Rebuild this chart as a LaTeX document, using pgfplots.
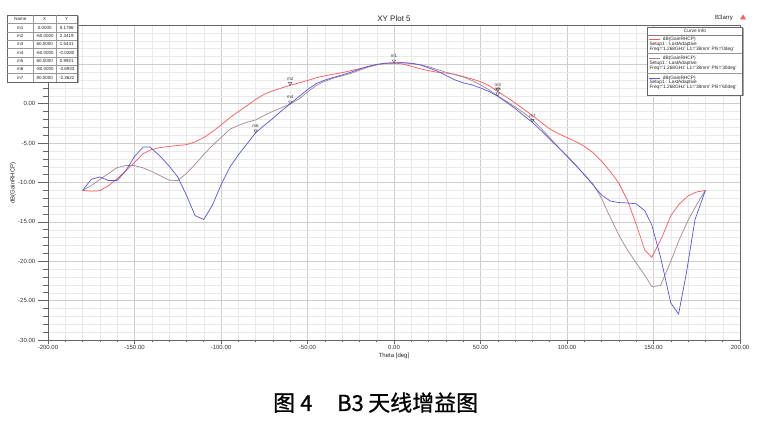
\documentclass[border=0pt]{standalone}
\usepackage{fontspec}
\setmainfont{Liberation Sans}
\newfontfamily\cjk[FakeBold=0.8]{Noto Sans CJK SC}
\usepackage{pgfplots}
\pgfplotsset{compat=1.18}
\definecolor{cred}{RGB}{255,85,85}
\definecolor{cgray}{RGB}{165,135,145}
\definecolor{cblue}{RGB}{85,85,225}
\definecolor{gmaj}{RGB}{205,205,205}
\definecolor{gmin}{RGB}{233,233,233}
\newcommand\q{\textquotesingle}
\newcommand\fs[1]{\fontsize{#1}{#1}\selectfont}
\begin{document}
\begin{tikzpicture}[x=1pt,y=1pt]
\useasboundingbox (0,0) rectangle (757,425);
\fill[white] (0,0) rectangle (757,425);
\begin{axis}[
  at={(48pt,85pt)}, anchor=south west, scale only axis,
  width=692pt, height=315pt,
  xmin=-200, xmax=200, ymin=-30, ymax=10,
  xtick={-200,-150,...,200}, ytick={-30,-25,...,10},
  yticklabels={{-30.00},{-25.00},{-20.00},{-15.00},{-10.00},{-5.00},{0.00},{},{}},
  minor x tick num=4, minor y tick num=4,
  grid=both,
  major grid style={gmaj, line width=0.5pt},
  minor grid style={gmin, line width=0.4pt},
  axis line style={black!60, line width=0.6pt},
  tick align=outside, xtick pos=bottom, ytick pos=left,
  tick style={black!60, line width=0.5pt},
  xtick style={/pgfplots/major tick length=4pt, /pgfplots/minor tick length=2pt},
  ytick style={/pgfplots/major tick length=10pt, /pgfplots/minor tick length=5pt},
  /pgf/number format/fixed, /pgf/number format/fixed zerofill,
  /pgf/number format/precision=2, /pgf/number format/assume math mode=true,
  ticklabel style={font=\fs{6}, text=black!80},
  xticklabel style={yshift=2pt},
  yticklabel style={xshift=-5pt},
]
\addplot[cred, line width=0.7pt] coordinates {
(-180,-11.0)(-175,-11.1)(-170,-11.05)(-165,-10.4)(-160,-9.5)(-155,-8.5)(-150,-7.45)(-145,-6.35)(-140,-5.8)(-135,-5.55)(-130,-5.42)(-125,-5.3)(-120,-5.2)(-115,-4.85)(-110,-4.3)(-105,-3.55)(-100,-2.7)(-95,-1.8)(-90,-1.0)(-85,-0.25)(-80,0.55)(-75,1.2)(-70,1.65)(-65,2.0)(-60,2.34)(-55,2.65)(-50,2.95)(-45,3.3)(-40,3.55)(-35,3.75)(-30,3.95)(-25,4.2)(-20,4.45)(-15,4.7)(-10,4.95)(-5,5.1)(0,5.18)(5,5.05)(10,4.75)(15,4.45)(20,4.2)(25,4.0)(30,3.9)(35,3.75)(40,3.45)(45,3.15)(50,2.8)(55,2.3)(60,1.54)(65,0.85)(70,0.1)(75,-0.7)(80,-1.5)(85,-2.35)(90,-3.2)(95,-3.8)(100,-4.3)(105,-4.8)(110,-5.4)(115,-6.2)(120,-7.3)(125,-8.6)(130,-10.1)(135,-12.3)(140,-15.3)(145,-18.6)(149,-19.5)(155,-16.9)(160,-14.2)(165,-12.7)(170,-11.7)(175,-11.2)(180,-11.0)
};
\addplot[cgray, line width=0.7pt] coordinates {
(-180,-11)(-175,-10.4)(-170,-9.6)(-165,-8.85)(-160,-8.1)(-155,-7.85)(-150,-7.85)(-145,-8.15)(-140,-8.6)(-135,-9.15)(-130,-9.7)(-125,-9.75)(-120,-8.85)(-115,-7.7)(-110,-6.45)(-105,-5.3)(-100,-4.3)(-95,-3.25)(-90,-2.75)(-85,-2.35)(-80,-2.05)(-75,-1.5)(-70,-0.95)(-65,-0.5)(-60,-0.03)(-55,0.6)(-50,1.5)(-45,2.3)(-40,2.85)(-35,3.25)(-30,3.55)(-25,3.85)(-20,4.25)(-15,4.65)(-10,4.95)(-5,5.15)(0,5.18)(5,5.2)(10,5.1)(15,4.95)(20,4.7)(25,4.35)(30,4.0)(35,3.7)(40,3.4)(45,2.95)(50,2.4)(55,1.75)(60,0.99)(65,0.3)(70,-0.4)(75,-1.15)(80,-2.0)(85,-3.1)(90,-4.3)(95,-5.5)(100,-6.7)(105,-7.8)(110,-9.0)(115,-10.2)(120,-12.0)(123,-13.5)(130,-16.7)(135,-18.6)(140,-20.2)(145,-21.8)(149,-23.2)(154,-23.1)(160,-20.0)(165,-17.2)(170,-14.8)(175,-12.8)(180,-11)
};
\addplot[cblue, line width=0.7pt] coordinates {
(-180,-11)(-175,-9.6)(-170,-9.3)(-165,-9.75)(-160,-9.75)(-155,-8.5)(-150,-6.7)(-145,-5.5)(-141,-5.5)(-135,-6.7)(-130,-7.9)(-125,-9.3)(-120,-11.6)(-115,-14.2)(-110,-14.7)(-105,-12.9)(-100,-10.3)(-95,-8.1)(-90,-6.5)(-85,-5.1)(-80,-3.69)(-75,-2.75)(-70,-1.85)(-65,-0.9)(-60,0.0)(-55,0.9)(-50,1.8)(-45,2.55)(-40,3.0)(-35,3.35)(-30,3.65)(-25,4.0)(-20,4.4)(-15,4.75)(-10,5.0)(-5,5.15)(0,5.18)(5,5.22)(10,5.15)(15,4.95)(20,4.55)(25,4.15)(30,3.6)(35,3.05)(40,2.65)(45,2.4)(50,2.0)(55,1.55)(60,0.95)(65,0.2)(70,-0.6)(75,-1.5)(80,-2.36)(85,-3.4)(90,-4.5)(95,-5.55)(100,-6.6)(105,-7.8)(110,-9.0)(115,-10.3)(120,-11.6)(125,-12.35)(130,-12.55)(135,-12.6)(140,-12.7)(145,-13.6)(149,-15.4)(154,-19.4)(160,-25.3)(164.5,-26.7)(169,-21.5)(174,-14.7)(180,-11)
};
\addplot[only marks, mark=triangle, mark size=2pt,
  mark options={black!70, line width=0.4pt, yshift=2pt, rotate=180},
  nodes near coords, point meta=explicit symbolic,
  every node near coord/.append style={font=\fs{4.5}, text=black!80, yshift=2.5pt, inner sep=0.5pt}]
  coordinates {(0,5.1786)[m1] (-60,2.3419)[m2] (60,1.5441)[m3] (-60,-0.0280)[m4] (60,0.9921)[m5] (-80,-3.6933)[m6] (80,-2.3622)[m7]};
\end{axis}
% title and labels
\node[font=\fs{8}, text=black!85] at (394,406) {XY Plot 5};
\node[font=\fs{6}, text=black!85] at (724,407) {B3arry};
\fill[red!65] (740,405.5) -- (746,405.5) -- (743,410.5) -- cycle;
\node[font=\fs{6}, text=black!85, rotate=90] at (13,242) {dB(GainRHCP)};
\node[font=\fs{6}, text=black!85] at (394,69) {Theta [deg]};
% marker table
\fill[black!35] (8.8,341.5) rectangle (78.8,408.5);
\fill[white] (7.3,343) rectangle (77.3,410);
\draw[black!60, line width=0.4pt] (7.3,343) rectangle (77.3,410);
\foreach \k in {1,...,7} \draw[black!40, line width=0.3pt] (7.3,410-8.375*\k) -- (77.3,410-8.375*\k);
\draw[black!40, line width=0.3pt] (33.3,343) -- (33.3,410) (56,343) -- (56,410);
\begin{scope}[every node/.style={font=\fs{4.5}, text=black!85, inner sep=0pt}]
\node at (20.3,405.8) {Name}; \node at (44.65,405.8) {X}; \node at (66.65,405.8) {Y};
\foreach \n/\xx/\yy [count=\i] in {m1/0.0000/5.1786, m2/-60.0000/2.3419, m3/60.0000/1.5441, m4/-60.0000/-0.0280, m5/60.0000/0.9921, m6/-80.0000/-3.6933, m7/80.0000/-2.3622}{
  \node at (20.3,405.8-8.375*\i) {\n};
  \node at (44.65,405.8-8.375*\i) {\xx};
  \node at (66.65,405.8-8.375*\i) {\yy};
}
\end{scope}
% legend box
\fill[black!35] (648.8,328.5) rectangle (743.5,396.5);
\fill[white] (647.3,330) rectangle (742,398);
\draw[black!60, line width=0.4pt] (647.3,330) rectangle (742,398);
\draw[black!50, line width=0.3pt] (647.3,390) -- (742,390);
\draw[black!40, line width=0.3pt] (647.3,371.7) -- (742,371.7) (647.3,352.3) -- (742,352.3);
\begin{scope}[every node/.style={font=\fs{4.8}, text=black!85, inner sep=0pt, anchor=west}]
\node[anchor=center] at (695,394.3) {Curve Info};
\draw[cred, line width=1pt] (649,385.7) -- (660,385.7);
\node at (662.7,385.7) {dB(GainRHCP)};
\node at (649.3,381) {Setup1 : LastAdaptive};
\node at (649.3,376) {Freq=\q1.268GHz\q{} L1=\q38mm\q{} Phi=\q0deg\q};
\draw[cgray, line width=1pt] (649,366.7) -- (660,366.7);
\node at (662.7,366.7) {dB(GainRHCP)};
\node at (649.3,361.7) {Setup1 : LastAdaptive};
\node at (649.3,356.7) {Freq=\q1.268GHz\q{} L1=\q38mm\q{} Phi=\q30deg\q};
\draw[cblue, line width=1pt] (649,346.7) -- (660,346.7);
\node at (662.7,346.7) {dB(GainRHCP)};
\node at (649.3,342.3) {Setup1 : LastAdaptive};
\node at (649.3,337.3) {Freq=\q1.268GHz\q{} L1=\q38mm\q{} Phi=\q60deg\q};
\end{scope}
% caption
\begin{scope}[every node/.style={font=\cjk\fs{22}, inner sep=0pt, anchor=base west}]
\node at (273,14) {图};
\node at (300,14) {4};
\node at (337,14) {B3};
\node at (368,14) {天线增益图};
\end{scope}
\end{tikzpicture}
\end{document}
